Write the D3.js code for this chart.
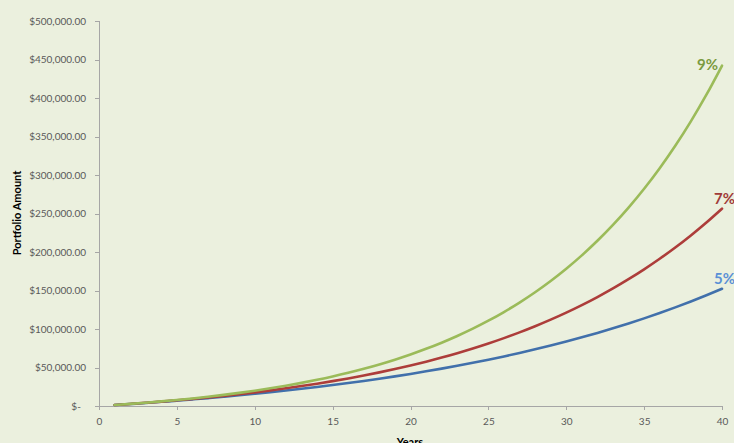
<!DOCTYPE html>
<html>
<head>
<meta charset="utf-8">
<script src="https://cdn.jsdelivr.net/npm/d3@7"></script>
<style>
  html, body { margin: 0; padding: 0; background: #ebf0de; }
  svg { display: block; }
  .axis text { font-family: Lato, "Open Sans", sans-serif; font-size: 10px; fill: #595959; }
  .axis path, .axis line { stroke: #a6a6a6; shape-rendering: crispEdges; }
  .title { font-family: Lato, "Open Sans", sans-serif; font-weight: bold; font-size: 11px; fill: #000; }
  .rate { font-family: Lato, "Open Sans", sans-serif; font-weight: bold; font-size: 15px; }
</style>
</head>
<body>
<svg id="chart" width="734" height="443"></svg>
<script>
// Portfolio value at the end of each year (years 1..40)
const years = d3.range(1, 41);

const rate5 = [1260, 2580, 3970, 5430, 6960, 8570, 10260, 12030, 13890, 15850,
  17900, 20060, 22320, 24690, 27190, 29810, 32560, 35450, 38480, 41660,
  45010, 48520, 52200, 56070, 60140, 64400, 68880, 73590, 78530, 83710,
  89160, 94880, 100880, 107180, 113800, 120750, 128050, 135710, 143760, 152210];

const rate7 = [1280, 2660, 4130, 5700, 7380, 9180, 11110, 13170, 15380, 17740,
  20270, 22970, 25860, 28950, 32270, 35810, 39600, 43650, 47990, 52640,
  57610, 62920, 68610, 74700, 81210, 88180, 95640, 103620, 112150, 121290,
  131060, 141520, 152710, 164680, 177500, 191200, 205870, 221570, 238360, 256330];

const rate9 = [1310, 2730, 4290, 5980, 7830, 9840, 12030, 14430, 17030, 19870,
  22970, 26340, 30020, 34030, 38400, 43170, 48360, 54020, 60190, 66920,
  74250, 82240, 90950, 100440, 110790, 122070, 134360, 147760, 162370, 178290,
  195640, 214560, 235180, 257650, 282150, 308850, 337960, 369680, 404260, 441950];

const seriesNames = ["5%", "7%", "9%"];
const lineColors = ["#4170ab", "#ad3d3a", "#9bbb59"];
const labelColors = ["#5a90d6", "#a03b38", "#7a9a3f"];

const xTicks = [0, 5, 10, 15, 20, 25, 30, 35, 40];
const yTicks = [0, 50000, 100000, 150000, 200000, 250000, 300000, 350000, 400000, 450000, 500000];

const svg = d3.select("#chart");
const plotLeft = 99, plotRight = 722, plotTop = 21, plotBottom = 406;

const x = d3.scaleLinear().domain([0, 40]).range([plotLeft, plotRight]);
const y = d3.scaleLinear().domain([0, 500000]).range([plotBottom, plotTop]);

const moneyFmt = d3.format("$,.2f");

// Y axis
svg.append("g")
  .attr("class", "axis")
  .attr("transform", `translate(${plotLeft},0)`)
  .call(d3.axisLeft(y).tickValues(yTicks).tickSize(4).tickPadding(9)
    .tickFormat(v => v === 0 ? "$-\u00a0\u00a0" : moneyFmt(v)))
  .call(g => g.select(".domain").attr("d", `M-4,${plotTop}H0V${plotBottom}`));

// X axis
svg.append("g")
  .attr("class", "axis")
  .attr("transform", `translate(0,${plotBottom})`)
  .call(d3.axisBottom(x).tickValues(xTicks).tickSize(4).tickPadding(8).tickFormat(d3.format("d")))
  .call(g => g.select(".domain").attr("d", `M${plotLeft},0H${plotRight}`));

// Axis titles
svg.append("text")
  .attr("class", "title")
  .attr("text-anchor", "middle")
  .attr("transform", `translate(21,213) rotate(-90)`)
  .text("Portfolio Amount");

svg.append("text")
  .attr("class", "title")
  .attr("text-anchor", "middle")
  .attr("x", 410)
  .attr("y", 446)
  .text("Years");

// Lines
const seriesData = [rate5, rate7, rate9];
const line = d3.line()
  .x((d, i) => x(years[i]))
  .y(d => y(d))
  .curve(d3.curveMonotoneX);

seriesData.forEach((vals, k) => {
  svg.append("path")
    .datum(vals)
    .attr("fill", "none")
    .attr("stroke", lineColors[k])
    .attr("stroke-width", 2.6)
    .attr("stroke-linecap", "round")
    .attr("d", line);
});

// End-of-line rate labels
const labelOffsets = [[-8, -5], [-8, -5], [-25, 4]];
seriesData.forEach((vals, k) => {
  const last = vals[vals.length - 1];
  svg.append("text")
    .attr("class", "rate")
    .attr("fill", labelColors[k])
    .attr("x", x(years[years.length - 1]) + labelOffsets[k][0])
    .attr("y", y(last) + labelOffsets[k][1])
    .text(seriesNames[k]);
});
</script>
</body>
</html>
